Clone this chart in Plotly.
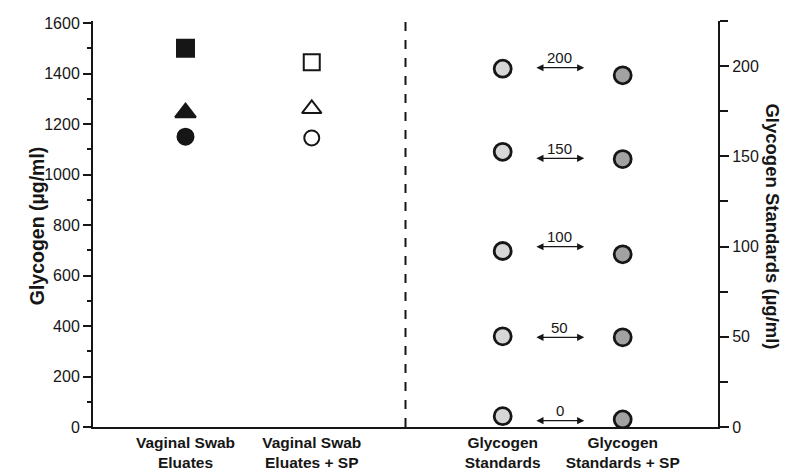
import plotly.graph_objects as go

# ---------------- data ----------------
categories = ["Vaginal Swab<br>Eluates", "Vaginal Swab<br>Eluates + SP",
              "Glycogen<br>Standards", "Glycogen<br>Standards + SP"]
swab_square = [1500, 1445]      # eluates, eluates + SP
swab_triangle = [1245, 1260]
swab_circle = [1150, 1145]
standard_labels = ["0", "50", "100", "150", "200"]
standards = [43, 359, 697, 1090, 1419]
standards_sp = [30, 355, 684, 1061, 1393]
arrow_levels = [25, 355, 714, 1064, 1423]
left_ticks = [0, 200, 400, 600, 800, 1000, 1200, 1400, 1600]
right_ticks = [0, 50, 100, 150, 200]

# ---------------- layout constants ----------------
cat_x = [1.48, 3.50, 6.555, 8.475]
divider_x = 5.0
arrow_x0, arrow_x1 = 7.07, 7.86
INK = "#161616"
FONT = "Liberation Sans, Arial, sans-serif"

fig = go.Figure()

swab_x = cat_x[:2]
fig.add_trace(go.Scatter(
    x=swab_x, y=swab_square, mode="markers", showlegend=False,
    marker=dict(symbol=["square", "square-open"], size=[17, 16], opacity=1,
                color=INK, line=dict(color=INK, width=2))))
fig.add_trace(go.Scatter(
    x=swab_x, y=swab_triangle, mode="markers", showlegend=False,
    marker=dict(symbol=["triangle-up", "triangle-up-open"], size=[18, 17], opacity=1,
                color=INK, line=dict(color=INK, width=2))))
fig.add_trace(go.Scatter(
    x=swab_x, y=swab_circle, mode="markers", showlegend=False,
    marker=dict(symbol=["circle", "circle-open"], size=[16, 15], opacity=1,
                color=INK, line=dict(color=INK, width=2))))

fig.add_trace(go.Scatter(
    x=[cat_x[2]] * len(standards), y=standards, mode="markers", showlegend=False,
    marker=dict(symbol="circle", size=17, color="#d6d6d6", opacity=1,
                line=dict(color=INK, width=2.8))))
fig.add_trace(go.Scatter(
    x=[cat_x[3]] * len(standards_sp), y=standards_sp, mode="markers", showlegend=False,
    marker=dict(symbol="circle", size=17, color="#a2a2a2", opacity=1,
                line=dict(color=INK, width=2.8))))

# dummy trace for right axis
fig.add_trace(go.Scatter(x=[None], y=[None], yaxis="y2", showlegend=False))

for lab, yv in zip(standard_labels, arrow_levels):
    fig.add_annotation(x=arrow_x1, y=yv, ax=arrow_x0, ay=yv, xref="x", yref="y",
                       axref="x", ayref="y", text="", showarrow=True,
                       arrowhead=2, arrowside="end+start", arrowsize=1.1,
                       arrowwidth=1.3, arrowcolor=INK)
    fig.add_annotation(x=(arrow_x0 + arrow_x1) / 2, y=yv, xref="x", yref="y",
                       text=lab, showarrow=False, yshift=10,
                       font=dict(family=FONT, size=15, color=INK))

fig.add_shape(type="line", x0=divider_x, x1=divider_x, y0=0, y1=1, xref="x",
              yref="paper", line=dict(color=INK, width=2, dash="dash"))

fig.add_annotation(text="<b>Glycogen (µg/ml)</b>", xref="paper", yref="paper",
                   x=-0.110, y=0.495, textangle=-90, showarrow=False,
                   font=dict(family=FONT, size=19.5, color=INK))
fig.add_annotation(text="<b>Glycogen Standards (µg/ml)</b>", xref="paper", yref="paper",
                   x=1.107, y=0.493, textangle=90, showarrow=False,
                   font=dict(family=FONT, size=18.5, color=INK))

fig.update_layout(
    width=796, height=475,
    margin=dict(l=85, r=86, t=7, b=56),
    paper_bgcolor="white", plot_bgcolor="white",
    font=dict(family=FONT, color=INK),
    xaxis=dict(range=[0, 10], showgrid=False, zeroline=False, showline=True,
               linecolor=INK, linewidth=2, ticks="", tickvals=cat_x,
               ticklabelstandoff=0,
               ticktext=["<b>" + c + "</b>" for c in categories],
               tickfont=dict(family=FONT, size=15.5, color=INK)),
    yaxis=dict(range=[0, 1608], showgrid=False, zeroline=False, showline=True,
               linecolor=INK, linewidth=2, ticks="outside", ticklen=8,
               tickwidth=1.5, tickcolor=INK, tickvals=left_ticks,
               tickfont=dict(family=FONT, size=16, color=INK),
               minor=dict(dtick=100, ticks="outside", ticklen=4,
                          tickcolor=INK, tickwidth=1.5)),
    yaxis2=dict(range=[0, 225], overlaying="y", side="right", showgrid=False,
                zeroline=False, showline=True, linecolor=INK, linewidth=2,
                ticks="outside", ticklen=9, tickwidth=1.5, tickcolor=INK,
                tickvals=right_ticks,
                tickfont=dict(family=FONT, size=16, color=INK),
                minor=dict(tickvals=[25, 75, 125, 175, 225], ticks="outside",
                           ticklen=8, tickcolor=INK, tickwidth=1.5)),
)

fig.write_html("out.html")
